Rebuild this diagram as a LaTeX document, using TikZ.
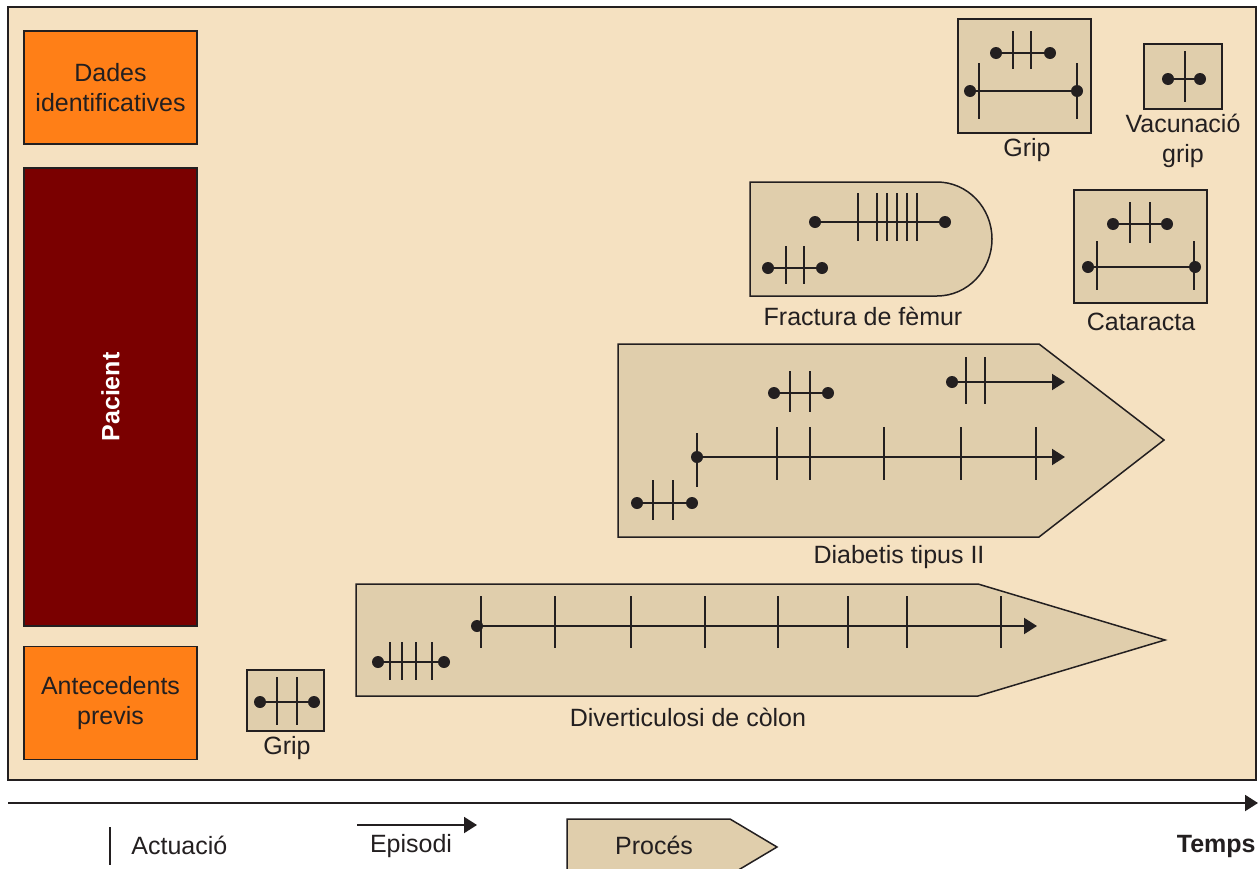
\documentclass[tikz,border=0pt]{standalone}
\usepackage{fontspec}
\setmainfont{Liberation Sans}
\usetikzlibrary{arrows.meta}

\definecolor{fons}{HTML}{F5E1C1}
\definecolor{proces}{HTML}{E0CEAC}
\definecolor{taronja}{HTML}{FF7F17}
\definecolor{granat}{HTML}{7A0000}
\definecolor{linia}{HTML}{231F20}

\tikzset{
	caixa/.style={draw=linia, line width=0.75pt, fill=proces},
	bloc/.style={draw=linia, line width=0.75pt, minimum width=86.5pt, align=center, inner sep=0pt},
	ep/.style={draw=linia, line width=1pt},
	act/.style={draw=linia, line width=1pt},
	fletxa/.style={-{Triangle[length=6.5pt,width=8pt]}},
	etiq/.style={text=linia, align=center, inner sep=1pt}
}

% episodi tancat: y, x inici, x final
\newcommand{\episodi}[3]{
	\draw[ep] (#2,#1) -- (#3,#1);
	\fill[linia] (#2,#1) circle (3pt) (#3,#1) circle (3pt);
}
% episodi obert (amb fletxa)
\newcommand{\obert}[3]{
	\draw[ep, fletxa] (#2,#1) -- (#3,#1);
	\fill[linia] (#2,#1) circle (3pt);
}
% actuacions: y dalt, y baix, llista de x
\newcommand{\actuacions}[3]{
	\foreach \xa in {#3} \draw[act] (\xa,#1) -- (\xa,#2);
}

\begin{document}
\begin{tikzpicture}[x=0.5pt, y=-0.5pt, font=\fontsize{12.5}{15}\selectfont]
	\clip (0,0) rectangle (1258,868);
	\fill[white] (0,0) rectangle (1258,868);

	% fons del pacient
	\draw[draw=linia, line width=1pt, fill=fons] (8,7) rectangle (1256,780);

	% blocs de l'esquerra
	\node[bloc, fill=taronja, minimum height=56.5pt, text=linia] (dades) at (110.5,87.5) {Dades\\identificatives};
	\node[bloc, fill=granat, minimum height=229pt] (pacient) at (110.5,397) {};
	\node[text=white, font=\fontsize{12.5}{15}\selectfont\bfseries, rotate=90] (pacientText) at (pacient.center) {Pacient};
	\node[bloc, fill=taronja, minimum height=56.5pt, text=linia] (antecedents) at (110.5,703) {Antecedents\\previs};

	% Grip (antecedent)
	\draw[caixa] (247,670) rectangle (324,731);
	\actuacions{677}{725}{277,297}
	\episodi{702}{260}{314}
	\node[etiq] (gripA) at (287,748) {Grip};

	% Diverticulosi de colon
	\draw[caixa] (356,584) -- (978,584) -- (1165,640) -- (978,696) -- (356,696) -- cycle;
	\actuacions{642}{680}{390,402,416,432}
	\episodi{662}{378}{444}
	\actuacions{596}{648}{481,555,631,705,778,848,907,1001}
	\obert{626}{477}{1037}
	\node[etiq] (diverticulosi) at (688,717) {Diverticulosi de còlon};

	% Diabetis tipus II
	\draw[caixa] (618,344) -- (1039,344) -- (1164,440) -- (1039,537) -- (618,537) -- cycle;
	\actuacions{480}{520}{653,673}
	\episodi{503}{637}{692}
	\actuacions{433}{487}{697}
	\actuacions{427}{480}{777,810,884,961,1036}
	\obert{457}{697}{1065}
	\actuacions{371}{412}{790,810}
	\episodi{393}{774}{828}
	\actuacions{357}{404}{966,985}
	\obert{382}{952}{1065}
	\node[etiq] (diabetis) at (899,557) {Diabetis tipus II};

	% Fractura de femur
	\draw[caixa] (750,182) -- (937,182) arc[start angle=90, end angle=-90, x radius=27.5pt, y radius=28.5pt] -- (750,296) -- cycle;
	\actuacions{246}{284}{786,804}
	\episodi{268}{768}{822}
	\actuacions{193}{241}{858,877,887,897,907,917}
	\episodi{222}{815}{945}
	\node[etiq] (fractura) at (863,316) {Fractura de fèmur};

	% Grip
	\draw[caixa] (958,19) rectangle (1091,133);
	\actuacions{31}{69}{1013,1031}
	\episodi{53}{996}{1050}
	\actuacions{63}{119}{979,1077}
	\episodi{91}{970}{1077}
	\node[etiq] (gripB) at (1027,150) {Grip};

	% Vacunacio grip
	\draw[caixa] (1144,44) rectangle (1222,109);
	\actuacions{51}{102}{1185}
	\episodi{79}{1168}{1200}
	\node[etiq] (vacunacio) at (1183,141) {Vacunació\\grip};

	% Cataracta
	\draw[caixa] (1074,190) rectangle (1207,303);
	\actuacions{202}{243}{1130,1150}
	\episodi{224}{1113}{1167}
	\actuacions{241}{290}{1097,1194}
	\episodi{267}{1088}{1195}
	\node[etiq] (cataracta) at (1141,322) {Cataracta};

	% eix del temps
	\coordinate (t0) at (8,803);
	\coordinate (t1) at (1258,803);
	\draw[ep, fletxa] (t0) -- (t1);

	% llegenda
	\draw[act] (110,827) -- (110,865);
	\node[etiq, anchor=west] (actuacio) at (129,845) {Actuació};
	\draw[ep, fletxa] (357,825) -- (477,825);
	\node[etiq] (episodi) at (411,846) {Episodi};
	\draw[caixa] (567,819) -- (730,819) -- (777,847) -- (730,875) -- (567,875) -- cycle;
	\node[etiq] (procesText) at (654,845) {Procés};
	\node[etiq, anchor=east, font=\fontsize{12.5}{15}\selectfont\bfseries] (temps) at (1258,846) {Temps};
\end{tikzpicture}
\end{document}
